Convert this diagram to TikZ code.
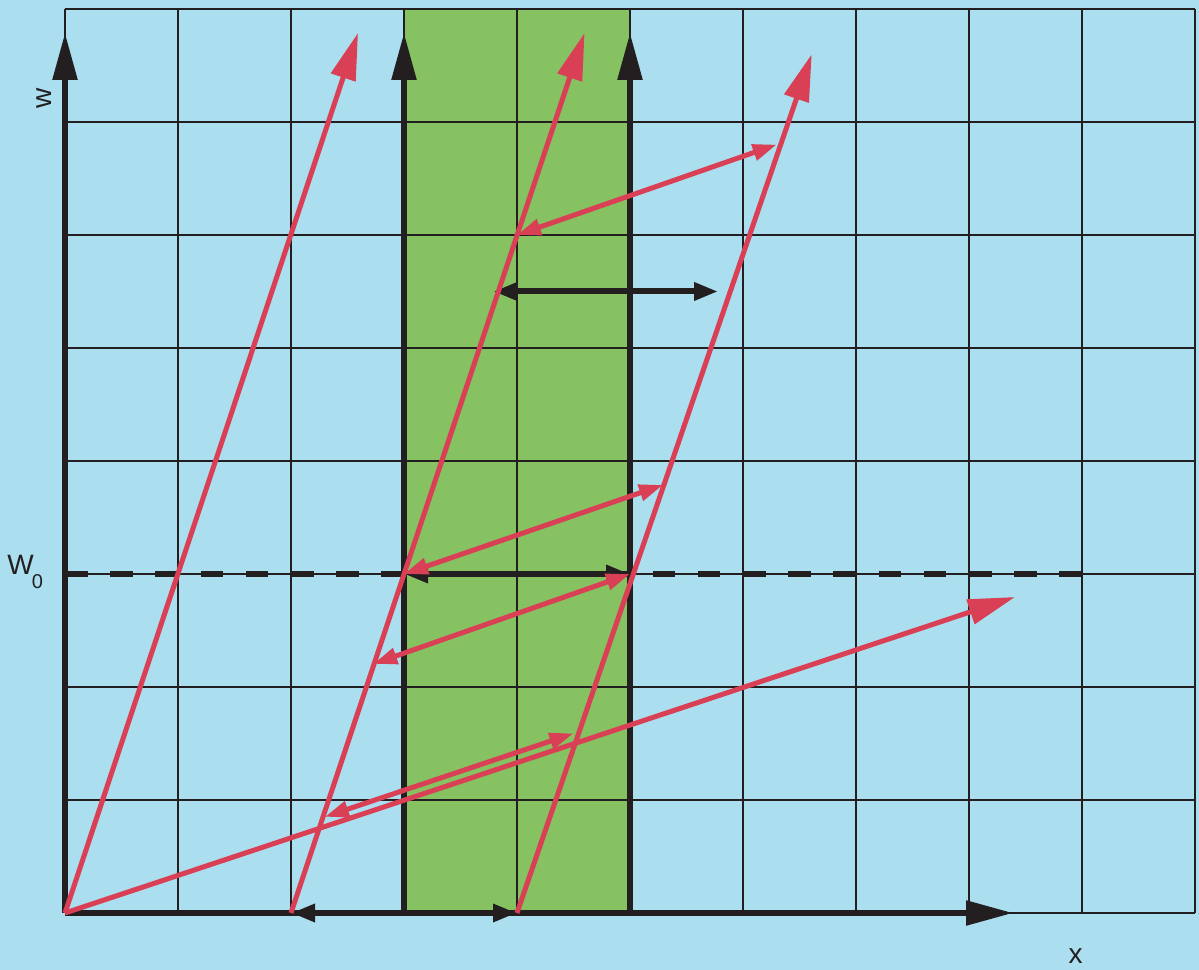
\documentclass[tikz,border=0pt]{standalone}
\usepackage{fontspec}
\setmainfont{Liberation Sans}
\usetikzlibrary{arrows.meta}
\definecolor{bgblue}{HTML}{ABDFF0}
\definecolor{bandgreen}{HTML}{86C262}
\definecolor{wred}{HTML}{D94055}
\definecolor{ink}{HTML}{231F20}
\begin{document}
\begin{tikzpicture}[x=113pt,y=113pt,
  gridline/.style={ink, line width=1.3pt},
  axisline/.style={ink, line width=5.5pt, -{Triangle[length=47pt,width=24pt]}},
  worldline/.style={wred, line width=5pt, -{Triangle[length=47pt,width=25pt]}},
  redsig/.style={wred, line width=5pt, {Triangle[length=24pt,width=16pt]}-{Triangle[length=24pt,width=16pt]}},
  blacksig/.style={ink, line width=6pt, {Triangle[length=24pt,width=17pt]}-{Triangle[length=24pt,width=17pt]}},
  dashline/.style={ink, line width=6pt, dash pattern=on 22.6pt off 22.6pt},
  lbl/.style={inner sep=0pt, text=ink, font=\fontsize{28}{30}\selectfont},
  sublbl/.style={inner sep=0pt, text=ink, font=\fontsize{20}{22}\selectfont}]
% background and bounding box
\fill[bgblue] (-0.5752,-0.5044) rectangle (10.0354,8.0796);
\useasboundingbox (-0.5752,-0.5044) rectangle (10.0354,8.0796);
% green band
\fill[bandgreen] (3,0) rectangle (5,8);
% grid
\draw[gridline, step=1] (0,0) grid (10,8);
% coordinates
\coordinate (O) at (0,0);
\coordinate (wtip) at (0,7.788);
\coordinate (xtip) at (8.39,0);
\coordinate (a0) at (3,0);
\coordinate (a1) at (3,7.788);
\coordinate (b0) at (5,0);
\coordinate (b1) at (5,7.788);
\coordinate (r2s) at (2,0);
\coordinate (r3s) at (4,0);
\coordinate (r1e) at (2.593,7.788);
\coordinate (r2e) at (4.598,7.788);
\coordinate (r3e) at (6.608,7.600);
\coordinate (r4e) at (8.407,2.796);
\coordinate (d0) at (0,3);
\coordinate (d1) at (9,3);
\coordinate (A0) at (4,6);
\coordinate (A1) at (6.298,6.80);
\coordinate (B0) at (3.79,5.5);
\coordinate (B1) at (5.78,5.5);
\coordinate (P) at (3,3);
\coordinate (Q) at (5,3);
\coordinate (C1) at (5.292,3.788);
\coordinate (E1) at (2.728,2.204);
\coordinate (F0) at (2.30,0.851);
\coordinate (F1) at (4.499,1.589);
% axes
\draw[axisline] (O) -- (wtip);
\draw[axisline] (O) -- (xtip);
\draw[axisline] (a0) -- (a1);
\draw[axisline] (b0) -- (b1);
% dashed line
\draw[dashline] (d0) -- (d1);
% black signals
\draw[blacksig] (B0) -- (B1);
\draw[blacksig] (P) -- (Q);
\draw[blacksig] (r2s) -- (r3s);
% red world lines
\draw[worldline] (O) -- (r1e);
\draw[worldline] (r2s) -- (r2e);
\draw[worldline] (r3s) -- (r3e);
\draw[worldline] (O) -- (r4e);
% red signals
\draw[redsig] (A0) -- (A1);
\draw[redsig] (P) -- (C1);
\draw[redsig] (Q) -- (E1);
\draw[redsig] (F0) -- (F1);
% labels
\node[lbl, rotate=90] (wl) at (-0.186,7.212) {w};
\node[lbl] (W0) at (-0.394,3.080) {W};
\node[sublbl] (W0s) at (-0.243,2.929) {0};
\node[lbl] (xl) at (8.944,-0.385) {x};
\end{tikzpicture}
\end{document}
